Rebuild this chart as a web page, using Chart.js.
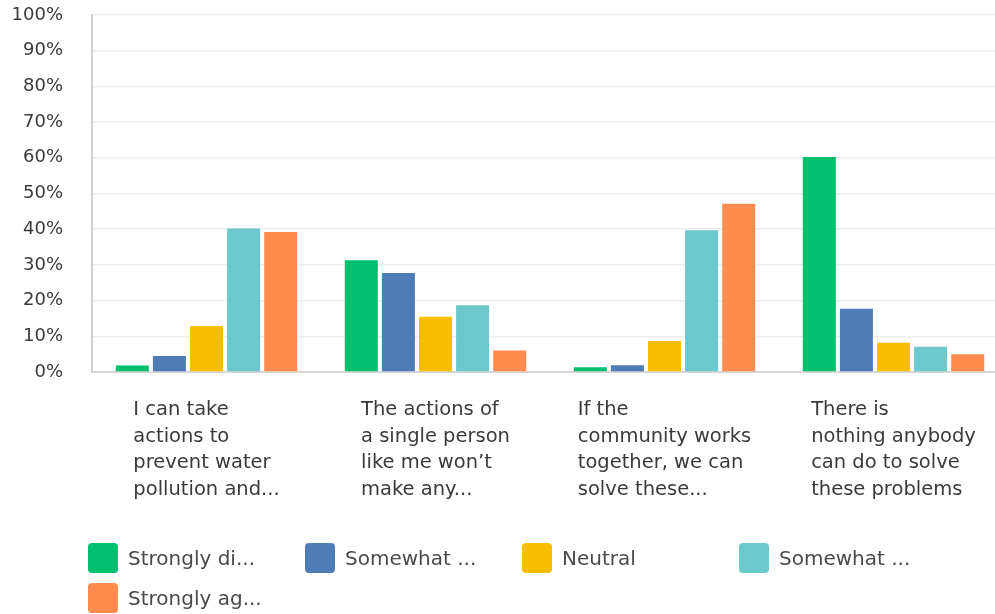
<!DOCTYPE html>
<html>
<head>
<meta charset="utf-8">
<script src="https://cdn.jsdelivr.net/npm/chart.js@4/dist/chart.umd.min.js"></script>
<style>
  html, body { margin: 0; padding: 0; background: #fff; overflow: hidden; }
  #wrap { position: relative; width: 995px; height: 614px; overflow: hidden; }
  #chart { position: absolute; left: 0; top: 0; }
  .legend-item { position: absolute; height: 30px; display: flex; align-items: center;
    font-family: "DejaVu Sans", sans-serif; font-size: 20px; color: #4a4a4a; white-space: nowrap; }
  .legend-item .sw { width: 30px; height: 30px; border-radius: 4px; margin-right: 10px; }
</style>
</head>
<body>
<div id="wrap">
  <canvas id="chart" width="1010" height="614"></canvas>
  <div id="legend"></div>
</div>
<script>
(function () {
  'use strict';

  // ── Data ──────────────────────────────────────────────────────────────────
  var categories = [
    ['I can take', 'actions to', 'prevent water', 'pollution and...'],
    ['The actions of', 'a single person', 'like me won\u2019t', 'make any...'],
    ['If the', 'community works', 'together, we can', 'solve these...'],
    ['There is', 'nothing anybody', 'can do to solve', 'these problems']
  ];
  var seriesNames   = ['Strongly disagree', 'Somewhat disagree', 'Neutral', 'Somewhat agree', 'Strongly agree'];
  var legendLabels  = ['Strongly di...', 'Somewhat ...', 'Neutral', 'Somewhat ...', 'Strongly ag...'];
  var stronglyDisagree = [1.8, 31.3, 1.3, 60.2];
  var somewhatDisagree = [4.5, 27.7, 1.9, 17.7];
  var neutral          = [12.9, 15.5, 8.7, 8.2];
  var somewhatAgree    = [40.2, 18.7, 39.7, 7.1];
  var stronglyAgree    = [39.2, 6.0, 47.1, 5.0];
  var yTicks = [0, 10, 20, 30, 40, 50, 60, 70, 80, 90, 100];

  var COLORS = ['#00bf6f', '#507cb6', '#f9be00', '#6bc8cd', '#ff8b4f'];
  var values = [stronglyDisagree, somewhatDisagree, neutral, somewhatAgree, stronglyAgree];

  // ── Category labels: left-aligned block centred on each tick ──────────────
  var xLabelPlugin = {
    id: 'xLabels',
    afterDraw: function (chart) {
      var ctx = chart.ctx;
      var xs = chart.scales.x;
      var base = chart.chartArea.bottom + 43;
      ctx.save();
      ctx.font = '19.5px "DejaVu Sans", sans-serif';
      ctx.fillStyle = '#3a3a3a';
      ctx.textAlign = 'left';
      ctx.textBaseline = 'alphabetic';
      categories.forEach(function (lines, i) {
        var cx = xs.getPixelForValue(i);
        var w = 0;
        lines.forEach(function (l) { w = Math.max(w, ctx.measureText(l).width); });
        var left = cx - w / 2;
        lines.forEach(function (l, k) { ctx.fillText(l, left, base + k * 26.7); });
      });
      ctx.restore();
    }
  };

  new Chart(document.getElementById('chart'), {
    type: 'bar',
    data: {
      labels: categories.map(function (c) { return c.join(' '); }),
      datasets: seriesNames.map(function (name, i) {
        return {
          label: name,
          data: values[i],
          backgroundColor: COLORS[i],
          borderWidth: 0,
          categoryPercentage: 0.81,
          barPercentage: 0.89
        };
      })
    },
    options: {
      responsive: false,
      animation: false,
      layout: { padding: { top: 15, right: 2, bottom: 242, left: 0 } },
      plugins: {
        legend: { display: false },
        tooltip: { enabled: false }
      },
      scales: {
        x: {
          ticks: { display: false },
          grid: { color: 'transparent', drawTicks: false },
          border: { color: '#d6d6d6', width: 2 },
          afterFit: function (s) { s.height = 0; }
        },
        y: {
          min: 0,
          max: 100,
          afterBuildTicks: function (s) { s.ticks = yTicks.map(function (v) { return { value: v }; }); },
          ticks: {
            padding: 0,
            color: '#3a3a3a',
            font: { family: '"DejaVu Sans", sans-serif', size: 18 },
            callback: function (v) { return v + '%'; }
          },
          // invisible tick marks hold the gap between labels and axis
          grid: { color: '#ededed', lineWidth: 1.5, drawTicks: true, tickLength: 29, tickColor: 'transparent' },
          border: { color: '#d0d0d0', width: 2 },
          afterFit: function (s) { s.width = 92; }
        }
      }
    },
    plugins: [xLabelPlugin]
  });

  // ── Legend ────────────────────────────────────────────────────────────────
  var legend = document.getElementById('legend');
  var legendPos = [[88, 543], [305, 543], [522, 543], [739, 543], [88, 583]];
  legendLabels.forEach(function (txt, i) {
    var item = document.createElement('div');
    item.className = 'legend-item';
    item.style.left = legendPos[i][0] + 'px';
    item.style.top = legendPos[i][1] + 'px';
    var sw = document.createElement('span');
    sw.className = 'sw';
    sw.style.background = COLORS[i];
    item.appendChild(sw);
    item.appendChild(document.createTextNode(txt));
    legend.appendChild(item);
  });
}());
</script>
</body>
</html>
